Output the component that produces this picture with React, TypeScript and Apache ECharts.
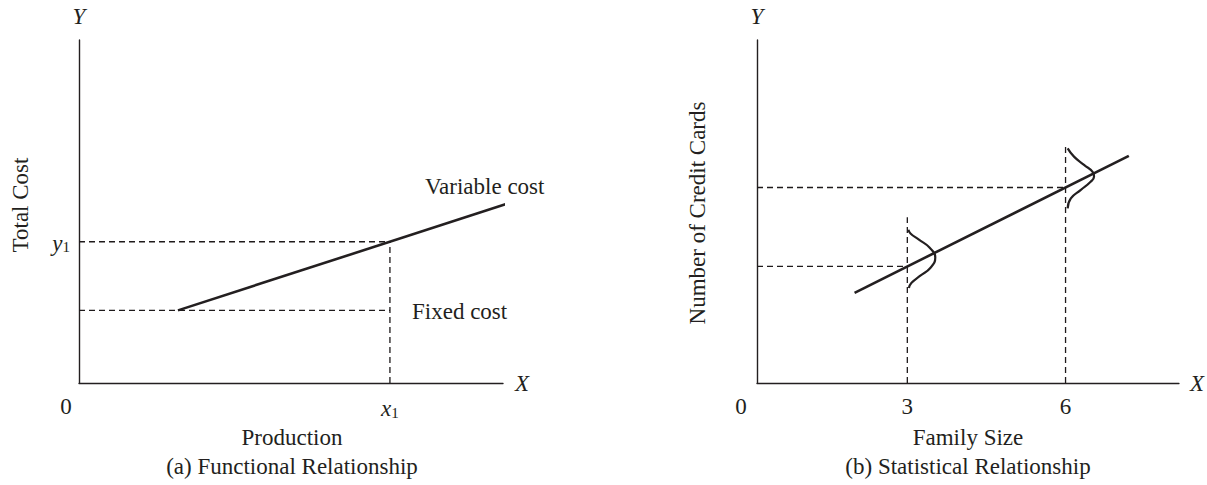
import React, { useEffect, useRef } from "react";
import * as echarts from "echarts";

// ---- Left panel: functional relationship ----
const leftXMax = 15;
const leftYMax = 17;
const variableCostLine = [[3.5, 3.6], [15.25, 8.93]];
const fixedCostGuide = [[0, 3.6], [11, 3.6]];
const y1Guide = [[0, 7], [11, 7]];
const x1Guide = [[11, 0], [11, 7]];
const leftXTicks = [11];
const leftYTicks = [7];

// ---- Right panel: statistical relationship ----
const rightXMin = 0.15;
const rightXMax = 8.15;
const rightYMax = 10;
const regressionLine = [[2, 2.63], [7.2, 6.62]];
const guide3H = [[0.15, 3.4], [3, 3.4]];
const guide6H = [[0.15, 5.7], [6, 5.7]];
const guide3V = [[3, 0], [3, 4.83]];
const guide6V = [[6, 0], [6, 6.95]];
const bell3 = [[3.02, 4.47], [3.06, 4.36], [3.22, 4.18], [3.42, 3.95], [3.53, 3.66], [3.44, 3.36], [3.24, 3.12], [3.08, 2.92], [3.03, 2.77]];
const bell6 = [[6.04, 6.84], [6.16, 6.6], [6.35, 6.36], [6.52, 6.14], [6.54, 6.02], [6.47, 5.86], [6.29, 5.63], [6.1, 5.38], [6.04, 5.09]];
const rightXTicks = [3, 6];

const FONT = "'Liberation Serif', 'DejaVu Serif', serif";
const INK = "#231f20";
const FS = 23;

const subRich = {
  i: { fontFamily: FONT, fontStyle: "italic", fontSize: FS, color: INK, lineHeight: 26, verticalAlign: "bottom" },
  s: { fontFamily: FONT, fontSize: 15, color: INK, lineHeight: 21, verticalAlign: "bottom" },
};

function solid(data: number[][], idx: number) {
  return {
    type: "line",
    xAxisIndex: idx,
    yAxisIndex: idx,
    data,
    symbol: "none",
    clip: false,
    silent: true,
    lineStyle: { color: INK, width: 2.6 },
  };
}
function dashed(data: number[][], idx: number) {
  return {
    type: "line",
    xAxisIndex: idx,
    yAxisIndex: idx,
    data,
    symbol: "none",
    clip: false,
    silent: true,
    lineStyle: { color: "#1e1a1b", width: 1.3, type: [6, 4] },
  };
}
function smoothCurve(data: number[][], idx: number) {
  return {
    type: "line",
    xAxisIndex: idx,
    yAxisIndex: idx,
    data,
    symbol: "none",
    smooth: 0.5,
    clip: false,
    silent: true,
    lineStyle: { color: INK, width: 2.2 },
  };
}

function axisBase(extra: any) {
  return {
    type: "value",
    axisLine: { show: true, lineStyle: { color: INK, width: 1.4 } },
    axisTick: { show: false },
    splitLine: { show: false },
    nameTextStyle: { fontFamily: FONT, fontStyle: "italic", fontSize: FS, color: INK },
    ...extra,
  };
}

function txt(x: number, y: number, text: string, extra: any = {}) {
  return {
    type: "text",
    x,
    y,
    silent: true,
    rotation: extra.rotation || 0,
    style: {
      text,
      fontFamily: FONT,
      fontSize: FS,
      fill: INK,
      align: extra.align || "center",
      verticalAlign: "middle",
      fontStyle: extra.fontStyle || "normal",
    },
  };
}

export default function App() {
  const ref = useRef<HTMLDivElement>(null);
  useEffect(() => {
    document.body.style.margin = "0";
    const chart = echarts.init(ref.current!, null, { renderer: "svg" });
    chart.setOption({
      animation: false,
      backgroundColor: "#ffffff",
      grid: [
        { left: 79, top: 40, width: 424, height: 343 },
        { left: 757, top: 40, width: 423, height: 343 },
      ],
      xAxis: [
        axisBase({
          gridIndex: 0, min: 0, max: leftXMax, name: "X", nameLocation: "end", nameGap: 12,
          axisLabel: {
            show: true, customValues: leftXTicks, margin: 11,
            formatter: () => "{i|x}{s|1}", rich: subRich,
          },
        }),
        axisBase({
          gridIndex: 1, min: rightXMin, max: rightXMax, name: "X", nameLocation: "end", nameGap: 11,
          axisLabel: {
            show: true, customValues: rightXTicks, margin: 12,
            fontFamily: FONT, fontSize: FS, color: INK,
            formatter: (v: number) => String(v),
          },
        }),
      ],
      yAxis: [
        axisBase({
          gridIndex: 0, min: 0, max: leftYMax, name: "Y", nameLocation: "end", nameGap: 12,
          axisLabel: {
            show: true, customValues: leftYTicks, margin: 9,
            formatter: () => "{i|y}{s|1}", rich: subRich,
          },
        }),
        axisBase({
          gridIndex: 1, min: 0, max: rightYMax, name: "Y", nameLocation: "end", nameGap: 12,
          axisLabel: { show: false },
        }),
      ],
      series: [
        solid(variableCostLine, 0),
        dashed(fixedCostGuide, 0),
        dashed(y1Guide, 0),
        dashed(x1Guide, 0),
        solid(regressionLine, 1),
        dashed(guide3H, 1),
        dashed(guide6H, 1),
        dashed(guide3V, 1),
        dashed(guide6V, 1),
        smoothCurve(bell3, 1),
        smoothCurve(bell6, 1),
      ],
      graphic: [
        txt(20, 205, "Total Cost", { rotation: Math.PI / 2 }),
        txt(66, 406, "0"),
        txt(425, 186, "Variable cost", { align: "left" }),
        txt(412, 311, "Fixed cost", { align: "left" }),
        txt(292, 437, "Production"),
        txt(292, 466, "(a) Functional Relationship"),
        txt(697, 213, "Number of Credit Cards", { rotation: Math.PI / 2 }),
        txt(741, 406, "0"),
        txt(968, 437, "Family Size"),
        txt(968, 466, "(b) Statistical Relationship"),
      ],
    });
    return () => chart.dispose();
  }, []);
  return <div ref={ref} style={{ width: 1207, height: 485 }} />;
}
